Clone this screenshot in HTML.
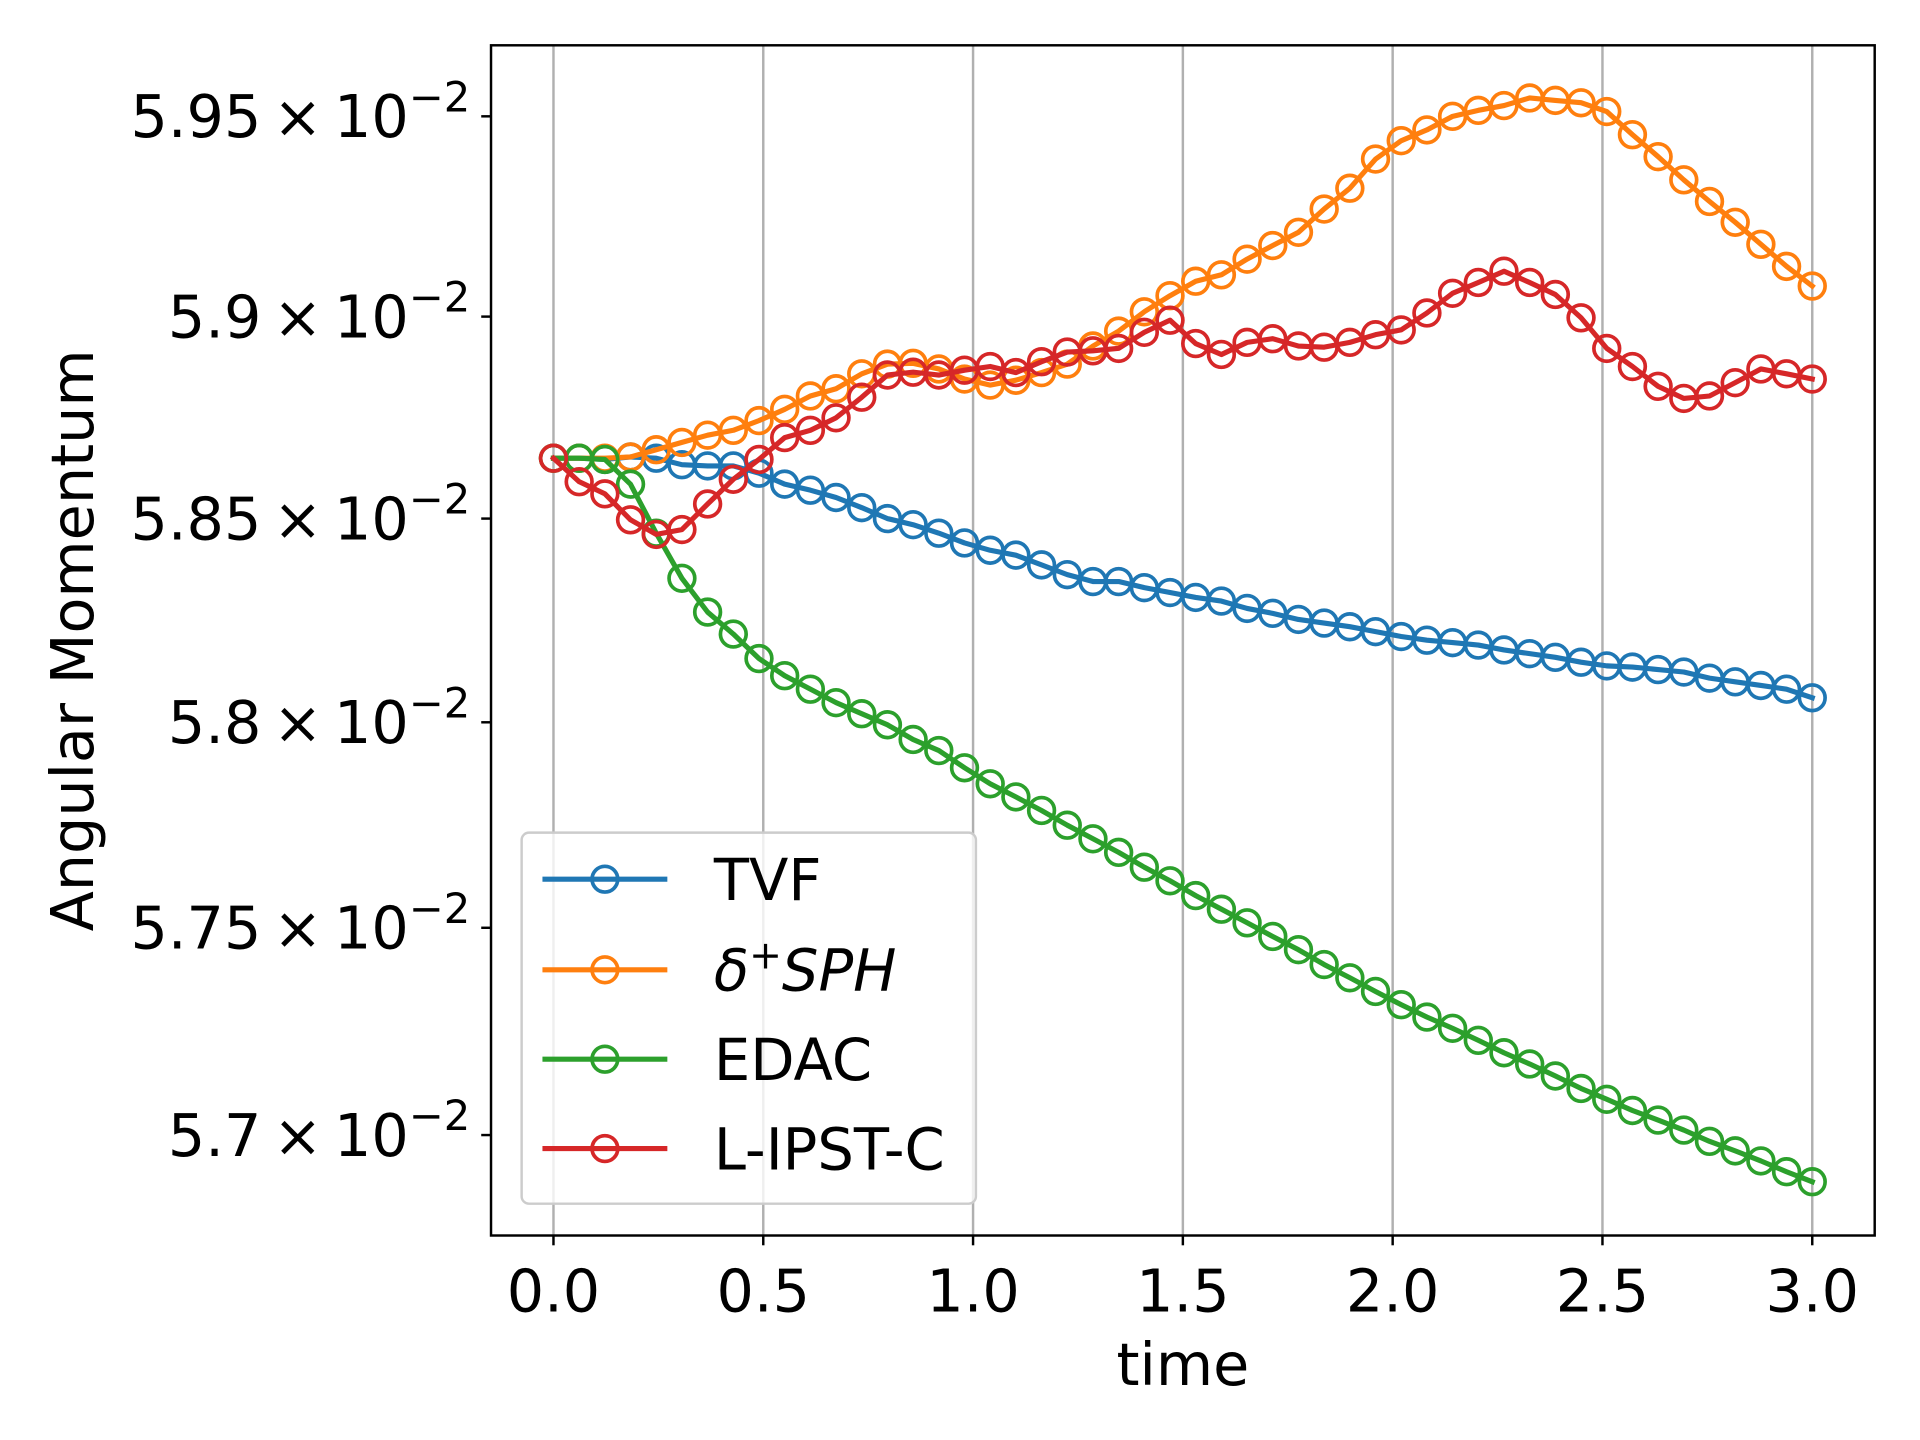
<!DOCTYPE html>
<html><head><meta charset="utf-8"><style>
html,body{margin:0;padding:0;background:#fff;}
svg{display:block;font-family:"DejaVu Sans","Liberation Sans",sans-serif;}
</style></head><body>
<svg id="chart" width="1920" height="1440" viewBox="0 0 1568 1176" xmlns="http://www.w3.org/2000/svg">
<rect x="0" y="0" width="1568" height="1176" fill="#fff"/>
<g id="grid"></g>
<g id="series"></g>
<rect x="401" y="37" width="1130" height="972" fill="none" stroke="#000" stroke-width="2"/>
<g id="axes"></g>
<text x="966" y="1131" font-size="48" text-anchor="middle">time</text>
<text transform="translate(76,523) rotate(-90)" font-size="48" text-anchor="middle">Angular Momentum</text>
<g id="legend">
<rect x="426" y="680" width="371" height="303" rx="6" fill="#fff" fill-opacity="0.8" stroke="#cccccc" stroke-width="2"/>
</g>
</svg>
<script>
const times = [];
for (let i = 0; i < 50; i++) times.push(i * 3 / 49);
const seriesNames = ["TVF", "δ+SPH", "EDAC", "L-IPST-C"];
const tvf = [5.8649,5.8649,5.8646,5.8652,5.8649,5.8633,5.8630,5.8630,5.8612,5.8585,5.8570,5.8552,5.8527,5.8500,5.8485,5.8464,5.8440,5.8422,5.8410,5.8386,5.8362,5.8345,5.8345,5.8330,5.8318,5.8306,5.8297,5.8279,5.8267,5.8252,5.8243,5.8234,5.8222,5.8210,5.8201,5.8195,5.8189,5.8177,5.8168,5.8159,5.8147,5.8138,5.8135,5.8129,5.8123,5.8108,5.8099,5.8090,5.8081,5.8060];
const dsph = [5.8649,5.8649,5.8649,5.8652,5.8670,5.8688,5.8706,5.8718,5.8742,5.8770,5.8803,5.8821,5.8858,5.8882,5.8884,5.8870,5.8845,5.8830,5.8842,5.8861,5.8882,5.8927,5.8964,5.9012,5.9052,5.9088,5.9104,5.9143,5.9177,5.9210,5.9268,5.9320,5.9393,5.9439,5.9466,5.9500,5.9515,5.9527,5.9546,5.9540,5.9534,5.9512,5.9454,5.9399,5.9341,5.9287,5.9235,5.9180,5.9125,5.9076];
const edac = [5.8649,5.8649,5.8646,5.8585,5.8464,5.8353,5.8270,5.8216,5.8156,5.8114,5.8081,5.8048,5.8021,5.7994,5.7958,5.7931,5.7889,5.7850,5.7818,5.7785,5.7749,5.7716,5.7683,5.7647,5.7614,5.7578,5.7545,5.7512,5.7479,5.7447,5.7411,5.7379,5.7346,5.7314,5.7284,5.7257,5.7228,5.7198,5.7171,5.7142,5.7112,5.7086,5.7059,5.7036,5.7012,5.6985,5.6962,5.6938,5.6912,5.6888];
const lipst = [5.8649,5.8591,5.8561,5.8497,5.8461,5.8473,5.8536,5.8597,5.8646,5.8700,5.8718,5.8749,5.8800,5.8855,5.8862,5.8855,5.8867,5.8876,5.8861,5.8888,5.8912,5.8915,5.8921,5.8961,5.8991,5.8933,5.8906,5.8936,5.8945,5.8927,5.8924,5.8936,5.8955,5.8967,5.9009,5.9058,5.9085,5.9113,5.9085,5.9055,5.8997,5.8921,5.8876,5.8827,5.8797,5.8803,5.8836,5.8870,5.8858,5.8845];
const xTicks = [0.0, 0.5, 1.0, 1.5, 2.0, 2.5, 3.0];
const xTickLabels = ["0.0", "0.5", "1.0", "1.5", "2.0", "2.5", "3.0"];
const yTicks = [5.95, 5.9, 5.85, 5.8, 5.75, 5.7];
const yTickLabels = ["5.95", "5.9", "5.85", "5.8", "5.75", "5.7"];

const NS = "http://www.w3.org/2000/svg";
function xs(t) { return 452 + t * 342.67; }
function ys(v) { return 95 + (Math.log10(5.95) - Math.log10(v)) * 44628; }
function mk(tag, attrs, parent) {
  const e = document.createElementNS(NS, tag);
  for (const k in attrs) e.setAttribute(k, attrs[k]);
  parent.appendChild(e);
  return e;
}
const grid = document.getElementById('grid');
const axes = document.getElementById('axes');
xTicks.forEach((t, i) => {
  const g = mk('line', {x1: xs(t), x2: xs(t), y1: 37, y2: 1009, stroke: '#b0b0b0', 'stroke-width': 2}, grid);
  
  
  const tk = mk('line', {x1: xs(t), x2: xs(t), y1: 1009, y2: 1017, stroke: '#000', 'stroke-width': 2}, axes);
  
  
  const lb = mk('text', {x: xs(t), y: 1071, 'font-size': 48, 'text-anchor': 'middle'}, axes);
  lb.textContent = xTickLabels[i];
  
  
});
yTicks.forEach((v, i) => {
  const y = ys(v);
  const tk = mk('line', {x1: 393, x2: 401, y1: y, y2: y, stroke: '#000', 'stroke-width': 2}, axes);
  
  
  const lb = mk('text', {x: 384, y: y + 17, 'font-size': 48, 'text-anchor': 'end'}, axes);
  
  
  const a = document.createElementNS(NS, 'tspan');
  a.textContent = yTickLabels[i] + '\u2009×\u200910';
  lb.appendChild(a);
  const b = document.createElementNS(NS, 'tspan');
  b.setAttribute('dy', '-21');
  b.setAttribute('font-size', '34');
  b.textContent = '−2';
  lb.appendChild(b);
});
const colors = ['#1f77b4', '#ff7f0e', '#2ca02c', '#d62728'];
const data = [tvf, dsph, edac, lipst];
const keys = ['tvf', 'dsph', 'edac', 'lipst'];
const sg = document.getElementById('series');
data.forEach((arr, s) => {
  const g = mk('g', {}, sg);
  
  
  const pts = arr.map((v, i) => xs(times[i]).toFixed(1) + ',' + ys(v).toFixed(1)).join(' ');
  const pl = mk('polyline', {points: pts, fill: 'none', stroke: colors[s], 'stroke-width': 4.2, 'stroke-linejoin': 'round', 'stroke-linecap': 'square'}, g);
  
  
  arr.forEach((v, i) => {
    const c = mk('circle', {cx: xs(times[i]), cy: ys(v), r: 10.5, fill: 'none', stroke: colors[s], 'stroke-width': 3}, g);
    
    
  });
});
const lg = document.getElementById('legend');
const ly = [718, 792, 865, 938];
seriesNames.forEach((n, s) => {
  const g = mk('g', {}, lg);
  
  
  mk('line', {x1: 443, x2: 545, y1: ly[s], y2: ly[s], stroke: colors[s], 'stroke-width': 4.2}, g);
  mk('circle', {cx: 494, cy: ly[s], r: 10.5, fill: 'none', stroke: colors[s], 'stroke-width': 3}, g);
  const t = mk('text', {x: 583, y: ly[s] + 17, 'font-size': 47}, g);
  if (s === 1) {
    t.setAttribute('font-style', 'italic');
    const a = document.createElementNS(NS, 'tspan'); a.textContent = 'δ'; t.appendChild(a);
    const b = document.createElementNS(NS, 'tspan'); b.setAttribute('dy', '-18'); b.setAttribute('font-size', '32'); b.setAttribute('font-style', 'normal'); b.textContent = '+'; t.appendChild(b);
    const c = document.createElementNS(NS, 'tspan'); c.setAttribute('dy', '18'); c.textContent = 'SPH'; t.appendChild(c);
  } else {
    t.textContent = n;
  }
});
</script>
</body></html>
